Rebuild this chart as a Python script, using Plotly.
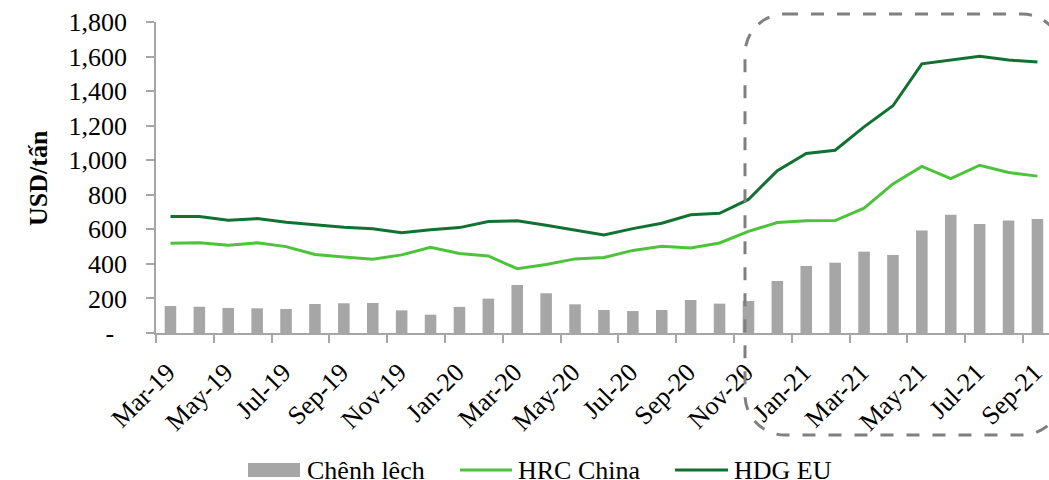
import plotly.graph_objects as go

# Monthly prices, Mar-2019 .. Sep-2021 (USD per tonne)
months = ["Mar-19", "Apr-19", "May-19", "Jun-19", "Jul-19", "Aug-19", "Sep-19", "Oct-19",
          "Nov-19", "Dec-19", "Jan-20", "Feb-20", "Mar-20", "Apr-20", "May-20", "Jun-20",
          "Jul-20", "Aug-20", "Sep-20", "Oct-20", "Nov-20", "Dec-20", "Jan-21", "Feb-21",
          "Mar-21", "Apr-21", "May-21", "Jun-21", "Jul-21", "Aug-21", "Sep-21"]
spread = [156, 152, 145, 143, 139, 168, 172, 174, 131, 106, 151, 199, 278, 230, 166, 133,
          127, 133, 191, 170, 185, 301, 388, 407, 471, 452, 593, 685, 631, 651, 660]
hrc_china = [520, 523, 508, 522, 500, 454, 440, 427, 452, 496, 460, 446, 372, 396, 429, 437,
             478, 502, 492, 521, 588, 639, 650, 651, 722, 863, 964, 893, 971, 929, 908]
hdg_eu = [674, 674, 653, 662, 641, 626, 612, 604, 581, 598, 610, 645, 649, 624, 595, 568,
          604, 635, 684, 693, 773, 940, 1039, 1058, 1193, 1315, 1558, 1580, 1601, 1580, 1568]
y_ticks = [0, 200, 400, 600, 800, 1000, 1200, 1400, 1600, 1800]
y_ticktext = ["-\u00a0\u00a0", "200", "400", "600", "800", "1,000", "1,200", "1,400", "1,600", "1,800"]

FONT = "Liberation Serif"
BAR_C = "#a6a6a6"
HRC_C = "#4cc43a"
HDG_C = "#117130"
AXIS_C = "#a6a6a6"

W, H = 1049, 480
ML, MT, MB, MR = 156, 22, 147, 0
PW, PH = W - ML - MR, H - MT - MB
CAT_PX = 28.9  # width of one month slot


def px(x):
    return (x - ML) / PW


def py(y):
    return (H - MB - y) / PH


idx = list(range(len(months)))
label_idx = idx[::2]
# rotated month labels end at the slot centre
label_pos = [i - 0.1 for i in label_idx]

fig = go.Figure()
fig.add_trace(go.Bar(x=idx, y=spread, width=0.4, marker=dict(color=BAR_C, line=dict(width=0)),
                     name="Chênh lêch"))
fig.add_trace(go.Scatter(x=idx, y=hrc_china, mode="lines", line=dict(color=HRC_C, width=3),
                         name="HRC China"))
fig.add_trace(go.Scatter(x=idx, y=hdg_eu, mode="lines", line=dict(color=HDG_C, width=3),
                         name="HDG EU"))

# rounded dashed frame around the 2021 period
x0, x1, y0, y1, r = 745, 1062, 14, 435, 40
k = 0.5523 * r
pts = [
    ("M", [(x0 + r, y0)]),
    ("L", [(x1 - r, y0)]),
    ("C", [(x1 - r + k, y0), (x1, y0 + r - k), (x1, y0 + r)]),
    ("L", [(x1, y1 - r)]),
    ("C", [(x1, y1 - r + k), (x1 - r + k, y1), (x1 - r, y1)]),
    ("L", [(x0 + r, y1)]),
    ("C", [(x0 + r - k, y1), (x0, y1 - r + k), (x0, y1 - r)]),
    ("L", [(x0, y0 + r)]),
    ("C", [(x0, y0 + r - k), (x0 + r - k, y0), (x0 + r, y0)]),
]
path = " ".join(cmd + " ".join(f"{px(a):.5f},{py(b):.5f}" for a, b in p) for cmd, p in pts) + " Z"

shapes = [dict(type="path", path=path, xref="paper", yref="paper",
               line=dict(color="#808080", width=3, dash="13px,13px"), layer="above")]

# legend drawn as shapes + labels
ly = 470
shapes.append(dict(type="rect", xref="paper", yref="paper", x0=px(248), x1=px(300),
                   y0=py(477), y1=py(463), fillcolor=BAR_C, line=dict(width=0)))
shapes.append(dict(type="line", xref="paper", yref="paper", x0=px(460), x1=px(512),
                   y0=py(ly), y1=py(ly), line=dict(color=HRC_C, width=3)))
shapes.append(dict(type="line", xref="paper", yref="paper", x0=px(675), x1=px(728),
                   y0=py(ly), y1=py(ly), line=dict(color=HDG_C, width=3)))

annotations = []
for xpos, label in [(305, "Chênh lêch"), (516, "HRC China"), (732, "HDG EU")]:
    annotations.append(dict(x=px(xpos), y=py(ly), xref="paper", yref="paper", text=label,
                            showarrow=False, xanchor="left", yanchor="middle",
                            font=dict(family=FONT, size=26, color="black")))
annotations.append(dict(x=px(38), y=py(178), xref="paper", yref="paper", text="<b>USD/tấn</b>",
                        showarrow=False, textangle=-90, xanchor="center", yanchor="middle",
                        font=dict(family=FONT, size=26, color="black")))

fig.update_layout(
    width=W, height=H, margin=dict(l=ML, r=MR, t=MT, b=MB, autoexpand=False),
    paper_bgcolor="white", plot_bgcolor="white", showlegend=False,
    font=dict(family=FONT, size=26, color="black"),
    shapes=shapes, annotations=annotations,
    xaxis=dict(range=[-0.5, -0.5 + PW / CAT_PX], tickmode="array", tickvals=label_pos,
               ticktext=[months[i] for i in label_idx], tickangle=-45, ticks="",
               showgrid=False, zeroline=False, ticklabeloverflow="allow",
               showline=True, linecolor=AXIS_C, linewidth=1.5, ticklabelstandoff=12,
               tickfont=dict(family=FONT, size=26, color="black"),
               minor=dict(tickmode="array", tickvals=[i - 0.5 for i in label_idx],
                          ticks="outside", ticklen=8, tickcolor=AXIS_C, tickwidth=1.5)),
    yaxis=dict(range=[0, 1800], tickmode="array", tickvals=y_ticks, ticktext=y_ticktext,
               ticks="outside", ticklen=8, tickcolor=AXIS_C, tickwidth=1.5,
               showgrid=False, zeroline=False, showline=True, linecolor=AXIS_C, linewidth=1.5,
               ticklabelstandoff=14, tickfont=dict(family=FONT, size=26, color="black")),
)

fig.write_html("out.html")
